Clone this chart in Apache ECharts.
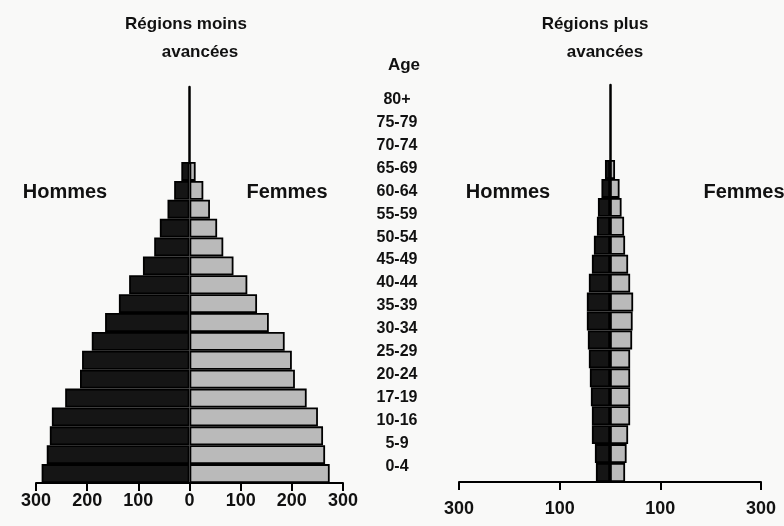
<!DOCTYPE html>
<html>
<head>
<meta charset="utf-8">
<script src="https://cdn.jsdelivr.net/npm/echarts@6/dist/echarts.min.js"></script>
<style>
  html, body { margin: 0; padding: 0; background: #f9f9f8; }
  #main { width: 784px; height: 526px; }
</style>
</head>
<body>
<div id="main"></div>
<script>
// age groups, bottom to top (labels as printed)
const ages = ['0-4', '5-9', '10-16', '17-19', '20-24', '25-29', '30-34', '35-39', '40-44',
  '45-49', '50-54', '55-59', '60-64', '65-69', '70-74', '75-79', '80+'];

// Régions moins avancées (millions)
const moinsHommes = [289, 279, 273, 269, 243, 214, 210, 191, 165, 138, 118, 91, 69, 58, 43, 30, 16];
const moinsFemmes = [274, 265, 261, 251, 229, 206, 200, 186, 155, 132, 113, 86, 66, 54, 40, 27, 12];

// Régions plus avancées (millions)
const plusHommes = [28, 30, 36, 36, 38, 40, 42, 44, 46, 46, 42, 36, 32, 26, 24, 17, 10];
const plusFemmes = [30, 33, 36, 40, 40, 40, 40, 44, 45, 46, 40, 36, 30, 28, 23, 19, 10];

const FONT = "'Liberation Sans', Arial, sans-serif";
const INK = '#111';
const MALE = '#151515';
const FEMALE = '#bababa';

var myChart = echarts.init(document.getElementById('main'));

function txt(text, left, top, size) {
  return {
    text: text, left: left, top: top, textAlign: 'center',
    textStyle: { fontFamily: FONT, fontSize: size, fontWeight: 'bold', color: INK }
  };
}

function pyramidX(gridIndex, interval, labelMargin) {
  return {
    gridIndex: gridIndex, type: 'value', min: -300, max: 300, interval: interval,
    axisLine: { show: true, lineStyle: { color: '#000', width: 2 } },
    axisTick: { show: true, inside: false, length: 8, lineStyle: { color: '#000', width: 2 } },
    axisLabel: {
      margin: labelMargin, fontFamily: FONT, fontSize: 18, fontWeight: 'bold', color: INK,
      formatter: function (v) { return Math.abs(v); }
    },
    splitLine: { show: false }
  };
}

function hiddenCat(gridIndex) {
  return {
    gridIndex: gridIndex, type: 'category', data: ages,
    axisLine: { show: false }, axisTick: { show: false }, axisLabel: { show: false }
  };
}

function bar(name, data, xi, stack, color, neg) {
  return {
    name: name, type: 'bar', stack: stack, xAxisIndex: xi, yAxisIndex: xi,
    data: neg ? data.map(function (v) { return -v; }) : data,
    barWidth: '100%',
    itemStyle: { color: color, borderColor: '#000', borderWidth: 1.8 },
    silent: true
  };
}

const option = {
  backgroundColor: '#f9f9f8',
  animation: false,
  title: [
    txt('Régions moins', 181, 11, 17),
    txt('avancées', 195, 39, 17),
    txt('Régions plus', 590, 11, 17),
    txt('avancées', 600, 39, 17),
    txt('Age', 399, 52, 17),
    txt('Hommes', 60, 177, 20),
    txt('Femmes', 282, 177, 20),
    txt('Hommes', 503, 177, 20),
    txt('Femmes', 739, 177, 20)
  ],
  grid: [
    { left: 36, right: 441, top: 162, bottom: 43 },      // left pyramid
    { left: 459, right: 23, top: 160, bottom: 44 },      // right pyramid
    { left: 397, right: 386, top: 88, bottom: 48 },      // age labels
    { left: 189, width: 20, top: 87, height: 76 },       // spike left
    { left: 610, width: 20, top: 85, height: 76 }        // spike right
  ],
  xAxis: [
    pyramidX(0, 100, 9),
    pyramidX(1, 200, 18),
    { gridIndex: 2, type: 'value', show: false },
    { gridIndex: 3, type: 'value', show: false },
    { gridIndex: 4, type: 'value', show: false }
  ],
  yAxis: [
    hiddenCat(0),
    hiddenCat(1),
    {
      gridIndex: 2, type: 'category', data: ages,
      axisLine: { show: false }, axisTick: { show: false },
      axisLabel: { margin: 0, align: 'center', fontFamily: FONT, fontSize: 16, fontWeight: 'bold', color: INK }
    },
    {
      gridIndex: 3, type: 'value', axisLabel: { show: false }, axisTick: { show: false },
      splitLine: { show: false }, axisLine: { show: true, lineStyle: { color: '#000', width: 2.5 } }
    },
    {
      gridIndex: 4, type: 'value', axisLabel: { show: false }, axisTick: { show: false },
      splitLine: { show: false }, axisLine: { show: true, lineStyle: { color: '#000', width: 2.5 } }
    }
  ],
  series: [
    bar('Hommes', moinsHommes, 0, 'moins', MALE, true),
    bar('Femmes', moinsFemmes, 0, 'moins', FEMALE, false),
    bar('Hommes', plusHommes, 1, 'plus', MALE, true),
    bar('Femmes', plusFemmes, 1, 'plus', FEMALE, false)
  ]
};

myChart.setOption(option);
</script>
</body>
</html>
